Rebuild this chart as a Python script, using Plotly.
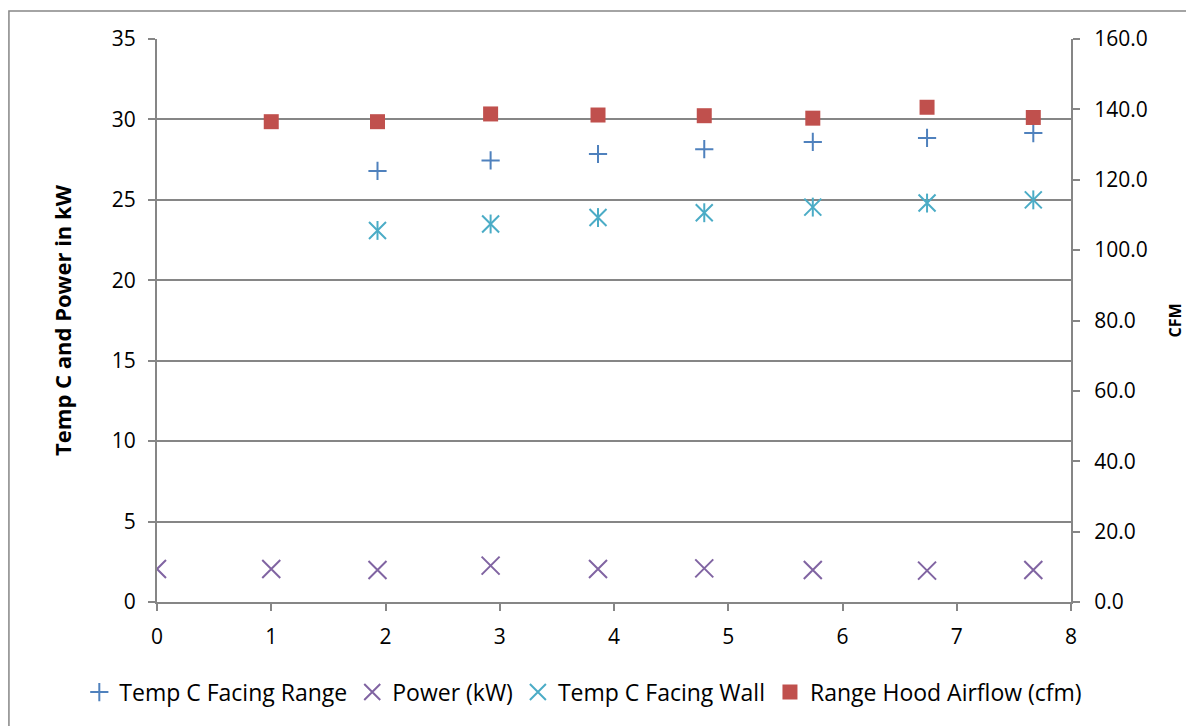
import plotly.graph_objects as go

# Test hour positions (x) for each reading
x_power = [0, 1.0, 1.93, 2.92, 3.86, 4.79, 5.74, 6.74, 7.67]
x_temp = [1.93, 2.92, 3.86, 4.79, 5.74, 6.74, 7.67]
x_flow = [1.0, 1.93, 2.92, 3.86, 4.79, 5.74, 6.74, 7.67]

temp_facing_range = [26.8, 27.45, 27.85, 28.15, 28.6, 28.85, 29.15]
power_kw = [2.05, 2.05, 1.99, 2.26, 2.05, 2.09, 1.99, 1.95, 1.99]
temp_facing_wall = [23.1, 23.5, 23.9, 24.2, 24.55, 24.8, 25.0]
airflow_cfm = [136.5, 136.5, 138.7, 138.4, 138.2, 137.5, 140.6, 137.7]

FONT = "Open Sans"
AX = "#868686"
BLUE, PURPLE, CYAN, RED = "#4F81BD", "#8064A2", "#4BACC6", "#C0504D"

fig = go.Figure()
fig.add_trace(go.Scatter(
    x=x_temp, y=temp_facing_range, mode="markers", name="Temp C Facing Range",
    marker=dict(symbol="cross-thin-open", size=13, color=BLUE,
                line=dict(width=2, color=BLUE)),
))
fig.add_trace(go.Scatter(
    x=x_power, y=power_kw, mode="markers", name="Power (kW)",
    marker=dict(symbol="x-thin-open", size=18, color=PURPLE,
                line=dict(width=2, color=PURPLE)),
))
# six-armed star: an X plus a vertical stroke
fig.add_trace(go.Scatter(
    x=x_temp, y=temp_facing_wall, mode="markers", name="Temp C Facing Wall",
    legendgroup="wall",
    marker=dict(symbol="x-thin-open", size=17, color=CYAN,
                line=dict(width=2, color=CYAN)),
))
fig.add_trace(go.Scatter(
    x=x_temp, y=temp_facing_wall, mode="markers", name="Temp C Facing Wall",
    legendgroup="wall", showlegend=False, hoverinfo="skip",
    marker=dict(symbol="line-ns-open", size=13.5, color=CYAN,
                line=dict(width=2, color=CYAN)),
))
fig.add_trace(go.Scatter(
    x=x_flow, y=airflow_cfm, mode="markers", name="Range Hood Airflow (cfm)",
    yaxis="y2",
    marker=dict(symbol="square", size=15, color=RED, line=dict(width=0)),
))

axis_common = dict(showline=True, linecolor=AX, linewidth=2,
                   ticks="outside", ticklen=7, tickcolor=AX, tickwidth=2,
                   zeroline=False, tickfont=dict(size=21), automargin=False)

fig.update_layout(
    width=1186, height=726,
    margin=dict(l=157, r=115, t=39, b=124, autoexpand=False),
    paper_bgcolor="white", plot_bgcolor="white",
    font=dict(family=FONT, size=21, color="black"),
    showlegend=True,
    legend=dict(orientation="h", x=-0.085, xanchor="left", y=-0.16,
                yanchor="middle", font=dict(size=23), itemwidth=30,
                tracegroupgap=0),
    xaxis=dict(range=[0, 8], dtick=1, showgrid=False,
               ticklabelstandoff=8, **axis_common),
    yaxis=dict(range=[0, 35], dtick=5, showgrid=True, gridcolor=AX,
               gridwidth=2, ticklabelstandoff=8,
               title=dict(text="<b>Temp C and Power in kW</b>",
                          font=dict(size=22), standoff=34),
               **axis_common),
    yaxis2=dict(range=[0, 160], dtick=20, overlaying="y", side="right",
                showgrid=False, tickformat=".1f", ticklabelstandoff=10,
                title=dict(text="<b>CFM</b>", font=dict(size=16),
                           standoff=26),
                **axis_common),
    shapes=[dict(type="rect", xref="paper", yref="paper",
                 x0=-0.162, x1=1.3, y0=-0.4, y1=1.0497,
                 line=dict(color=AX, width=1.5), layer="below")],
)

fig.write_html("out.html")
